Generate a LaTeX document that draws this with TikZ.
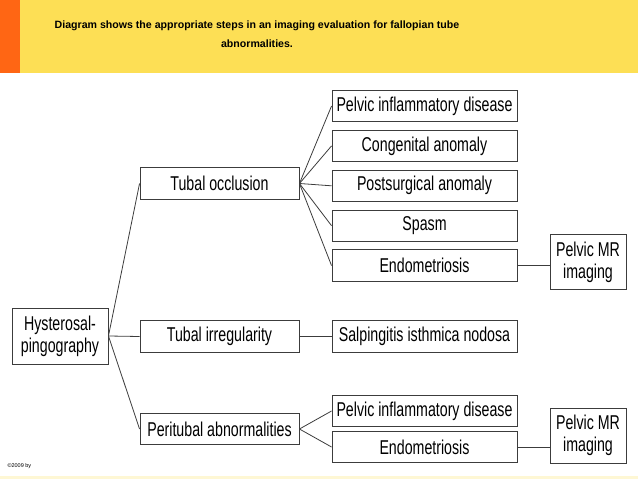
\documentclass[tikz,border=0pt]{standalone}
\usepackage{fontspec}
\setmainfont{Liberation Sans}
\newfontfamily\narrowfont[FakeStretch=0.71]{Liberation Sans}
\usepackage{xcolor}
\usetikzlibrary{positioning}
\definecolor{bandyellow}{RGB}{253,223,85}
\definecolor{bandorange}{RGB}{255,102,20}
\definecolor{edgegray}{RGB}{60,60,60}
\tikzset{
  stepbox/.style={rectangle, draw=edgegray, line width=0.9pt, fill=white,
                  inner sep=0pt, align=center,
                  font=\narrowfont\fontsize{20}{22}\selectfont},
  midbox/.style={stepbox, minimum width=159pt, minimum height=31.5pt},
  causebox/.style={stepbox, minimum width=185pt, minimum height=31.5pt},
  mrbox/.style={stepbox, minimum width=76pt, minimum height=55pt},
  link/.style={draw=edgegray, line width=0.8pt},
}

\begin{document}
\begin{tikzpicture}[x=1pt, y=-1pt, node distance=7.5pt]
% header band
\fill[bandyellow] (0,0) rectangle (638,73);
\fill[bandorange] (0,0) rectangle (20,73);
\fill[bandyellow!25] (0,476) rectangle (638,479);
\useasboundingbox (0,0) rectangle (638,479);
\node[font=\bfseries\fontsize{10.6}{19}\selectfont, align=center] (title) at (257,34)
  {Diagram shows the appropriate steps in an imaging evaluation for fallopian tube\\
   abnormalities.};

% first column
\node[stepbox, minimum width=96pt, minimum height=56pt] (hsg) at (60,336)
  {Hysterosal-\\pingography};

% second column
\node[midbox] (occl) at (219.5,183.5) {Tubal occlusion};
\node[midbox] (irreg) at (219.5,336.5) {Tubal irregularity};
\node[midbox] (peri) at (219.5,429) {Peritubal abnormalities};

% causes of occlusion
\node[causebox] (pid) at (424.5,106) {Pelvic inflammatory disease};
\node[causebox, below=of pid] (cong) {Congenital anomaly};
\node[causebox, below=of cong] (postsurg) {Postsurgical anomaly};
\node[causebox, below=of postsurg] (spasm) {Spasm};
\node[causebox, below=of spasm] (endo) {Endometriosis};

\node[causebox] (sin) at (424.5,336.5) {Salpingitis isthmica nodosa};

\node[causebox] (pidb) at (424.5,411) {Pelvic inflammatory disease};
\node[causebox] (endob) at (424.5,447) {Endometriosis};

% imaging
\node[mrbox] (mr) at (588,262) {Pelvic MR\\imaging};
\node[mrbox] (mrb) at (588,435.5) {Pelvic MR\\imaging};

% connectors
\draw[link] (hsg.east) -- (occl.west);
\draw[link] (hsg.east) -- (irreg.west);
\draw[link] (hsg.east) -- (peri.west);
\foreach \c in {pid, cong, postsurg, spasm, endo}
  \draw[link] (occl.east) -- (\c.west);
\draw[link] (irreg.east) -- (sin.west);
\draw[link] (peri.east) -- (pidb.west);
\draw[link] (peri.east) -- (endob.west);
\draw[link] (endo.east) -- (endo.east -| mr.west);
\draw[link] (endob.east) -- (endob.east -| mrb.west);

\node[anchor=west, font=\fontsize{5.5}{6}\selectfont] (copy) at (4,466) {\textcopyright2009 by};
\end{tikzpicture}
\end{document}
